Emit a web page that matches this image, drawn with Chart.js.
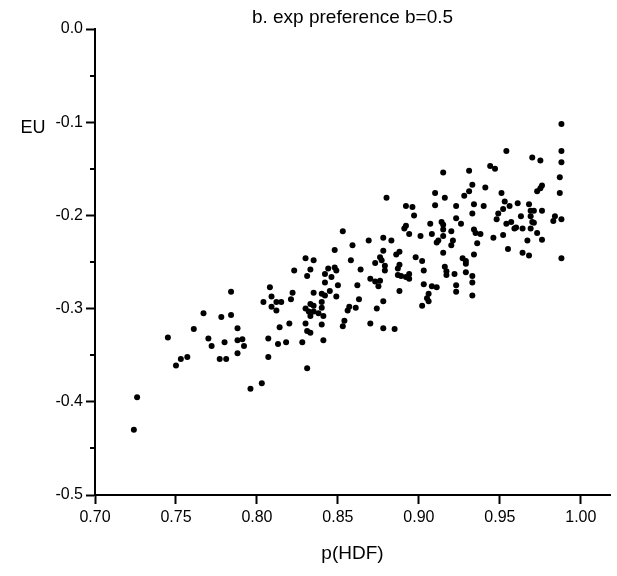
<!DOCTYPE html>
<html>
<head>
<meta charset="utf-8">
<script src="https://cdn.jsdelivr.net/npm/chart.js@4/dist/chart.umd.min.js"></script>
<style>
  html, body { margin: 0; padding: 0; background: #fff; }
  #wrap { width: 617px; height: 576px; }
</style>
</head>
<body>
<div id="wrap"><canvas id="c" width="617" height="576"></canvas></div>
<script>
// ---- data ----
const pHDF = [
  0.784,0.767,0.778,0.784,0.761,0.788,0.745,0.770,0.780,0.788,0.791,0.772,0.792,0.757,0.753,0.750,0.777,0.781,0.788,0.796,0.726,0.724,0.803,
  0.853,0.848,0.859,0.830,0.835,0.858,0.823,0.833,0.831,0.844,0.848,0.849,0.842,0.846,0.842,0.850,0.862,0.808,0.845,0.835,0.840,0.842,0.822,0.821,
  0.849,0.863,0.809,0.804,0.812,0.815,0.809,0.812,0.840,0.833,0.835,0.830,0.832,0.835,0.838,0.840,0.857,0.856,0.861,0.833,0.841,0.820,0.814,0.830,
  0.840,0.854,0.853,0.831,0.833,0.807,0.818,0.813,0.828,0.841,0.807,0.831,
  0.915,0.910,0.916,0.910,0.880,0.892,0.896,0.897,0.914,0.915,0.907,0.892,0.891,0.920,0.915,0.908,0.894,0.901,0.915,0.869,0.878,0.883,0.912,0.911,
  0.878,0.888,0.886,0.915,0.898,0.902,0.876,0.877,0.873,0.879,0.888,0.864,0.879,0.887,0.903,0.916,0.917,0.917,0.887,0.889,0.892,0.894,0.894,0.870,
  0.873,0.876,0.875,0.903,0.908,0.911,0.888,0.906,0.905,0.906,0.878,0.902,0.874,
  0.870,0.878,0.885,0.922,0.923,0.923,0.929,0.933,0.933,0.933,
  0.954,0.970,0.975,0.944,0.947,0.931,0.933,0.941,0.931,0.928,0.951,0.976,0.973,0.975,0.953,0.934,0.940,0.923,0.956,0.961,0.968,0.952,0.949,0.969,
  0.971,0.976,0.933,0.963,0.969,0.948,0.923,0.957,0.970,0.971,0.954,0.926,0.960,0.959,0.964,0.969,0.973,0.934,0.935,0.938,0.952,0.946,0.976,0.967,
  0.921,0.920,0.936,0.955,0.964,0.968,0.934,0.927,0.929,0.929,
  0.988,0.988,0.988,0.987,0.987,0.988,0.983,0.984,0.988
];
const EU = [
  -0.282,-0.305,-0.309,-0.307,-0.322,-0.321,-0.331,-0.332,-0.336,-0.334,-0.333,-0.340,-0.340,-0.352,-0.354,-0.361,-0.354,-0.354,-0.348,-0.386,-0.395,-0.430,-0.380,
  -0.217,-0.237,-0.232,-0.246,-0.248,-0.248,-0.259,-0.258,-0.265,-0.257,-0.256,-0.259,-0.263,-0.266,-0.272,-0.275,-0.275,-0.277,-0.281,-0.283,-0.284,-0.286,-0.283,-0.290,
  -0.287,-0.290,-0.287,-0.293,-0.293,-0.293,-0.298,-0.302,-0.293,-0.295,-0.297,-0.300,-0.303,-0.303,-0.305,-0.299,-0.298,-0.302,-0.299,-0.308,-0.308,-0.316,-0.320,-0.316,
  -0.317,-0.313,-0.319,-0.324,-0.326,-0.332,-0.336,-0.338,-0.336,-0.334,-0.352,-0.364,
  -0.154,-0.176,-0.181,-0.189,-0.181,-0.190,-0.191,-0.200,-0.207,-0.210,-0.209,-0.211,-0.214,-0.217,-0.215,-0.220,-0.220,-0.222,-0.222,-0.227,-0.224,-0.227,-0.227,-0.229,
  -0.238,-0.239,-0.242,-0.240,-0.245,-0.249,-0.245,-0.248,-0.251,-0.254,-0.253,-0.258,-0.259,-0.257,-0.259,-0.255,-0.260,-0.264,-0.264,-0.265,-0.266,-0.263,-0.268,-0.268,
  -0.271,-0.270,-0.276,-0.274,-0.276,-0.277,-0.281,-0.284,-0.289,-0.292,-0.292,-0.297,-0.300,
  -0.316,-0.321,-0.322,-0.263,-0.275,-0.282,-0.261,-0.265,-0.272,-0.286,
  -0.131,-0.138,-0.141,-0.147,-0.150,-0.152,-0.167,-0.170,-0.174,-0.179,-0.176,-0.168,-0.174,-0.171,-0.185,-0.188,-0.190,-0.190,-0.190,-0.187,-0.188,-0.193,-0.198,-0.195,
  -0.195,-0.195,-0.198,-0.201,-0.201,-0.204,-0.203,-0.207,-0.207,-0.208,-0.209,-0.209,-0.213,-0.214,-0.214,-0.214,-0.219,-0.215,-0.219,-0.220,-0.221,-0.224,-0.226,-0.227,
  -0.227,-0.232,-0.230,-0.236,-0.240,-0.243,-0.242,-0.246,-0.249,-0.252,
  -0.102,-0.131,-0.143,-0.159,-0.176,-0.204,-0.206,-0.201,-0.246
];
const xTickLabels = ['0.70','0.75','0.80','0.85','0.90','0.95','1.00'];
const yTickLabels = ['-0.5','-0.4','-0.3','-0.2','-0.1','0.0'];
const yMinorTicks = [-0.45,-0.35,-0.25,-0.15,-0.05];
const titleText = 'b. exp preference b=0.5';
const xTitle = 'p(HDF)';
const yTitle = 'EU';

const points = pHDF.map((x, i) => ({ x: x, y: EU[i] }));
const xTickValues = xTickLabels.map(Number);
const yTickValues = yTickLabels.map(Number);

const SANS = "'Liberation Sans', Arial, sans-serif";

const extras = {
  id: 'extras',
  afterDraw(chart) {
    const ctx = chart.ctx;
    const y = chart.scales.y;
    const left = chart.chartArea.left;
    ctx.save();
    ctx.strokeStyle = '#000';
    ctx.lineWidth = 2;
    yMinorTicks.forEach(v => {
      const py = Math.round(y.getPixelForValue(v));
      ctx.beginPath();
      ctx.moveTo(left - 5, py);
      ctx.lineTo(left, py);
      ctx.stroke();
    });
    ctx.fillStyle = '#000';
    ctx.font = '18px ' + SANS;
    ctx.textAlign = 'center';
    ctx.textBaseline = 'middle';
    ctx.fillText(yTitle, left - 62, y.getPixelForValue(-0.1) + 6);
    ctx.restore();
  }
};

new Chart(document.getElementById('c'), {
  type: 'scatter',
  data: {
    datasets: [{
      data: points,
      backgroundColor: '#000',
      borderColor: '#000',
      borderWidth: 0,
      pointRadius: 3,
      pointHoverRadius: 3
    }]
  },
  options: {
    responsive: false,
    devicePixelRatio: 1,
    animation: false,
    layout: { padding: { left: 0, right: 7, top: 0, bottom: 0 } },
    plugins: {
      legend: { display: false },
      tooltip: { enabled: false },
      title: {
        display: true,
        text: titleText,
        fullSize: false,
        color: '#000',
        font: { family: SANS, size: 19, weight: 'normal', lineHeight: 1 },
        padding: { top: 8, bottom: 2 }
      }
    },
    scales: {
      x: {
        type: 'linear',
        position: 'bottom',
        min: 0.70,
        max: 1.018,
        afterBuildTicks: s => { s.ticks = xTickValues.map(v => ({ value: v })); },
        afterFit: s => { s.height = 81; },
        ticks: {
          color: '#000',
          padding: 4,
          maxRotation: 0,
          font: { family: SANS, size: 16 },
          callback: (v) => { const i = xTickValues.findIndex(t => Math.abs(t - v) < 1e-6); return i >= 0 ? xTickLabels[i] : ''; }
        },
        grid: { display: true, drawOnChartArea: false, drawTicks: true, tickLength: 9, tickWidth: 2, tickColor: '#000' },
        border: { display: true, color: '#000', width: 2 },
        title: {
          display: true, text: xTitle, color: '#000',
          font: { family: SANS, size: 19, lineHeight: 1.2 },
          padding: { top: 4, bottom: 11 }
        }
      },
      y: {
        type: 'linear',
        position: 'left',
        min: -0.5,
        max: 0,
        afterBuildTicks: s => { s.ticks = yTickValues.map(v => ({ value: v })); },
        afterFit: s => { s.width = 95; },
        ticks: {
          color: '#000',
          padding: 3,
          font: { family: SANS, size: 16 },
          callback: (v) => { const i = yTickValues.findIndex(t => Math.abs(t - v) < 1e-6); return i >= 0 ? yTickLabels[i] : ''; }
        },
        grid: { display: true, drawOnChartArea: false, drawTicks: true, tickLength: 9, tickWidth: 2, tickColor: '#000' },
        border: { display: true, color: '#000', width: 2 }
      }
    }
  },
  plugins: [extras]
});
</script>
</body>
</html>
